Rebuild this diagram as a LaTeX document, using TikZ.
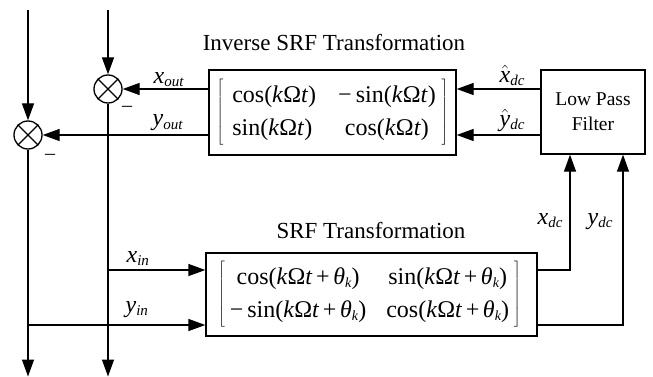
\documentclass[tikz,border=0pt]{standalone}
\usepackage{fontspec}
\setmainfont{Liberation Serif}
\usetikzlibrary{arrows.meta}
\newcommand{\vi}[1]{\textit{#1}}
\newcommand{\sbt}[1]{\raisebox{-3pt}{\fontsize{15}{17}\selectfont\textit{#1}}}
\newcommand{\vsb}[2]{\textit{#1}\sbt{#2}}
\newcommand{\kot}{\vi{k}Ω\vi{t}}
\newcommand{\argk}{\kot\hspace{0.15em}+\hspace{0.15em}\textit{θ}\raisebox{-3pt}{\fontsize{14}{16}\selectfont\textit{k}}}
\begin{document}
\begin{tikzpicture}[x=1pt,y=-1pt, line width=1.3pt,
  arr/.style={-{Triangle[length=17pt,width=12pt]}},
  blk/.style={draw, rectangle, inner sep=0pt},
  sumc/.style={draw, circle, minimum size=28pt, inner sep=0pt},
  lbl/.style={inner sep=0pt, anchor=base west, font=\fontsize{24}{28}\selectfont},
  ttl/.style={inner sep=0pt, anchor=base, font=\fontsize{23}{28}\selectfont},
  mtx/.style={font=\fontsize{24}{28}\selectfont}]
\useasboundingbox (0,0) rectangle (653,377);

% blocks
\node[blk, mtx, minimum width=247pt, minimum height=85pt] (inv) at (332.5,112.5)
  {$\left[\renewcommand{\arraystretch}{1.18}\begin{tabular}{@{\hspace{9pt}}l@{\hspace{22pt}}c@{\hspace{6pt}}}
   cos(\kot) & −\,sin(\kot)\\
   sin(\kot) & cos(\kot)\end{tabular}\right]$};
\node[blk, minimum width=104pt, minimum height=84pt, align=center,
  font=\fontsize{19.5}{25}\selectfont] (lpf) at (593,112) {Low Pass\\Filter};
\node[blk, mtx, minimum width=331pt, minimum height=83pt] (srf) at (371.5,294.5)
  {\hspace*{-4pt}$\left[\renewcommand{\arraystretch}{1.18}\begin{tabular}{@{\hspace{5pt}}c@{\hspace{20pt}}c@{\hspace{5pt}}}
   cos(\argk) & sin(\argk)\\
   −\,sin(\argk) & cos(\argk)\end{tabular}\right]$};

\node[ttl] (tinv) at (334,51) {Inverse SRF Transformation};
\node[ttl] (tsrf) at (371,238) {SRF Transformation};

% summing junctions
\node[sumc] (c1) at (108,89) {};
\draw (c1.north east) -- (c1.south west) (c1.north west) -- (c1.south east);
\node[sumc] (c2) at (28,135) {};
\draw (c2.north east) -- (c2.south west) (c2.north west) -- (c2.south east);

% coordinates
\coordinate (tM) at (108,10);
\coordinate (tL) at (28,10);
\coordinate (bM) at (108,376.5);
\coordinate (bL) at (28,376.5);
\coordinate (xin) at (108,270);
\coordinate (yin) at (28,325);
\coordinate (xdc) at (570,270);
\coordinate (ydc) at (623,325);

% connectors
\draw[arr] (tM) -- (c1);
\draw[arr] (tL) -- (c2);
\draw[arr] (c1) -- (bM);
\draw[arr] (c2) -- (bL);
\draw[arr] (inv.west |- c1) -- (c1);
\draw[arr] (inv.west |- c2) -- (c2);
\draw[arr] (lpf.west |- c1) -- (inv.east |- c1);
\draw[arr] (lpf.west |- c2) -- (inv.east |- c2);
\draw[arr] (xin) -- (srf.west |- xin);
\draw[arr] (yin) -- (srf.west |- yin);
\draw[arr] (srf.east |- xdc) -- (xdc) -- (xdc |- lpf.south);
\draw[arr] (srf.east |- ydc) -- (ydc) -- (ydc |- lpf.south);

% labels
\node[lbl] (lxo) at (153,84) {\vsb{x}{out}};
\node[lbl] (lyo) at (152,126) {\vsb{y}{out}};
\node[lbl] (lxi) at (126,262) {\vsb{x}{in}};
\node[lbl] (lyi) at (125,312) {\vsb{y}{in}};
\node[lbl] (lxh) at (499,83) {$\hat{\vi{x}}$\sbt{dc}};
\node[lbl] (lyh) at (499,127) {$\hat{\vi{y}}$\sbt{dc}};
\node[lbl] (lxd) at (537,224) {\vsb{x}{dc}};
\node[lbl] (lyd) at (587,224) {\vsb{y}{dc}};
\node[inner sep=0pt, font=\fontsize{20}{22}\selectfont] (m1) at (127,109) {–};
\node[inner sep=0pt, font=\fontsize{20}{22}\selectfont] (m2) at (50,157) {–};
\end{tikzpicture}
\end{document}
